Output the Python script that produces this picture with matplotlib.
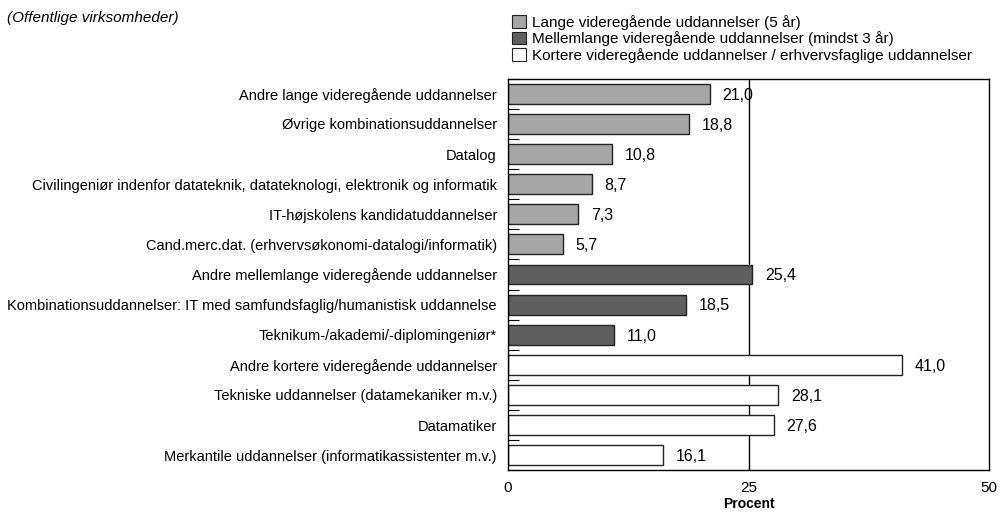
import numpy as np
import matplotlib.pyplot as plt

plt.rcParams['font.family'] = ['Liberation Sans', 'DejaVu Sans']

categories = [
    "Andre lange videregående uddannelser",
    "Øvrige kombinationsuddannelser",
    "Datalog",
    "Civilingeniør indenfor datateknik, datateknologi, elektronik og informatik",
    "IT-højskolens kandidatuddannelser",
    "Cand.merc.dat. (erhvervsøkonomi-datalogi/informatik)",
    "Andre mellemlange videregående uddannelser",
    "Kombinationsuddannelser: IT med samfundsfaglig/humanistisk uddannelse",
    "Teknikum-/akademi/-diplomingeniør*",
    "Andre kortere videregående uddannelser",
    "Tekniske uddannelser (datamekaniker m.v.)",
    "Datamatiker",
    "Merkantile uddannelser (informatikassistenter m.v.)",
]
values = [21.0, 18.8, 10.8, 8.7, 7.3, 5.7, 25.4, 18.5, 11.0, 41.0, 28.1, 27.6, 16.1]
groups = [0, 0, 0, 0, 0, 0, 1, 1, 1, 2, 2, 2, 2]
group_names = [
    "Lange videregående uddannelser (5 år)",
    "Mellemlange videregående uddannelser (mindst 3 år)",
    "Kortere videregående uddannelser / erhvervsfaglige uddannelser",
]
group_colors = ['#a6a6a6', '#5f5f5f', '#ffffff']

fig = plt.figure(figsize=(10, 5.15), dpi=100)
ax = fig.add_axes([0.508, 0.087, 0.481, 0.760])

y = np.arange(len(categories))
cols = [group_colors[g] for g in groups]
ax.barh(y, values, height=0.66, color=cols, edgecolor='#222222', linewidth=1.0, zorder=2)

# value labels, Danish decimal comma
for yi, v in zip(y, values):
    ax.annotate(f"{v:.1f}".replace('.', ','), (v, yi), xytext=(9, -1),
                textcoords='offset points', va='center', ha='left', fontsize=11.5)

ax.axvline(25, color='black', lw=1.0, zorder=1)

ax.set_xlim(0, 50)
ax.set_ylim(len(categories) - 0.5, -0.5)
ax.set_yticks(y)
ax.set_yticklabels(categories, fontsize=10.5)
ax.tick_params(axis='y', which='major', length=0, pad=8)
ax.set_yticks(np.arange(-0.5, len(categories), 1.0), minor=True)
ax.tick_params(axis='y', which='minor', direction='in', length=8, width=0.8)
ax.set_xticks([0, 25, 50])
ax.tick_params(axis='x', length=0, pad=8, labelsize=11)
ax.set_xlabel("Procent", fontweight='bold', fontsize=10, labelpad=1)
for s in ax.spines.values():
    s.set_linewidth(1.0)

handles = [plt.Rectangle((0, 0), 1, 1, facecolor=c, edgecolor='#222222', linewidth=0.8)
           for c in group_colors]
fig.legend(handles, group_names, loc='upper left', bbox_to_anchor=(0.506, 0.983),
           frameon=False, fontsize=11, handlelength=0.9, handleheight=0.9,
           handletextpad=0.4, labelspacing=0.1, borderaxespad=0)

fig.text(0.007, 0.965, "(Offentlige virksomheder)", fontsize=11, style='italic', va='center')

fig.savefig('out.png', dpi=100)
